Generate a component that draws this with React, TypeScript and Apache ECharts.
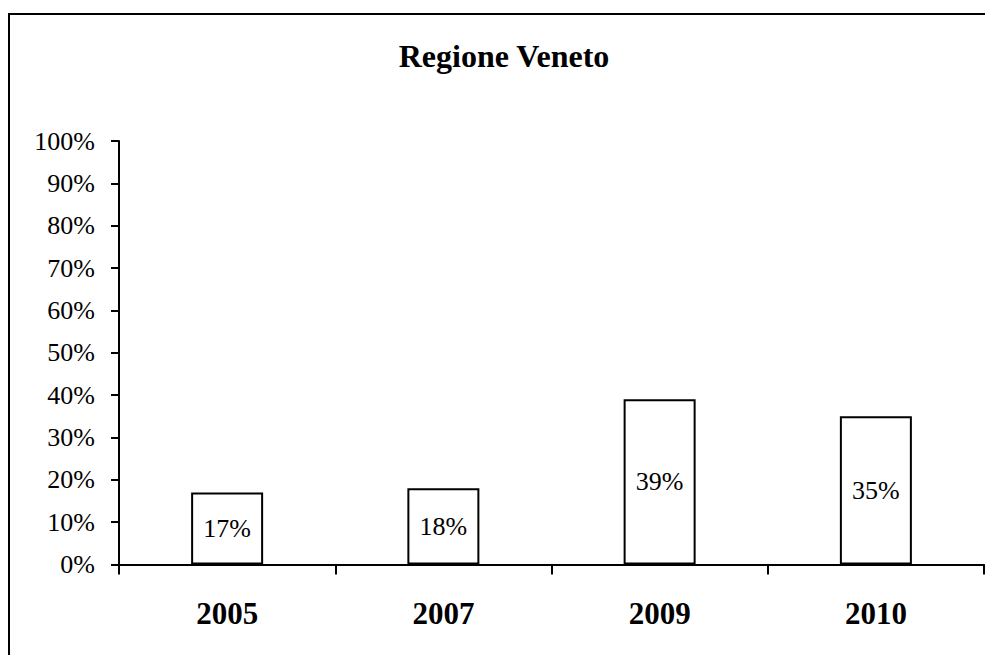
import React, { useEffect, useRef } from "react";
import * as echarts from "echarts";

const categories = ["2005", "2007", "2009", "2010"];
const values = [17, 18, 39, 35];
const yMin = 0;
const yMax = 100;
const yInterval = 10;
const titleText = "Regione Veneto";

const FONT = '"Times New Roman", "Liberation Serif", serif';

export default function App() {
  const ref = useRef<HTMLDivElement>(null);
  useEffect(() => {
    if (!ref.current) return;
    const chart = echarts.init(ref.current, undefined, { renderer: "svg" });
    chart.setOption({
      animation: false,
      backgroundColor: "#ffffff",
      title: {
        text: titleText,
        left: 504,
        top: 40,
        textAlign: "center",
        padding: 0,
        textStyle: { fontFamily: FONT, fontSize: 32, fontWeight: "bold", color: "#000" },
      },
      graphic: [
        {
          type: "rect",
          shape: { x: 9, y: 14, width: 2000, height: 2000 },
          style: { fill: "none", stroke: "#000", lineWidth: 2 },
          silent: true,
        },
      ],
      grid: { left: 119, right: 1, top: 141, bottom: 90.5, containLabel: false },
      xAxis: {
        type: "category",
        data: categories,
        axisLine: { show: true, lineStyle: { color: "#000", width: 2 } },
        axisTick: { show: true, length: 10, inside: false, alignWithLabel: false, lineStyle: { color: "#000", width: 2 } },
        axisLabel: {
          margin: 33,
          fontFamily: FONT,
          fontSize: 31,
          fontWeight: "bold",
          color: "#000",
        },
        splitLine: { show: false },
      },
      yAxis: {
        type: "value",
        min: yMin,
        max: yMax,
        interval: yInterval,
        axisLine: { show: true, lineStyle: { color: "#000", width: 2 } },
        axisTick: { show: true, length: 8, lineStyle: { color: "#000", width: 2 } },
        axisLabel: {
          margin: 24,
          formatter: "{value}%",
          fontFamily: FONT,
          fontSize: 26,
          color: "#000",
        },
        splitLine: { show: false },
      },
      series: [
        {
          type: "bar",
          data: values,
          barWidth: 72,
          itemStyle: { color: "#ffffff", borderColor: "#000", borderWidth: 2 },
          label: {
            show: true,
            position: "inside",
            formatter: "{c}%",
            fontFamily: FONT,
            fontSize: 26,
            color: "#000",
          },
        },
      ],
    });
    return () => chart.dispose();
  }, []);
  return (
    <div
      ref={ref}
      style={{ position: "fixed", left: 0, top: 0, width: 985, height: 655 }}
    />
  );
}
